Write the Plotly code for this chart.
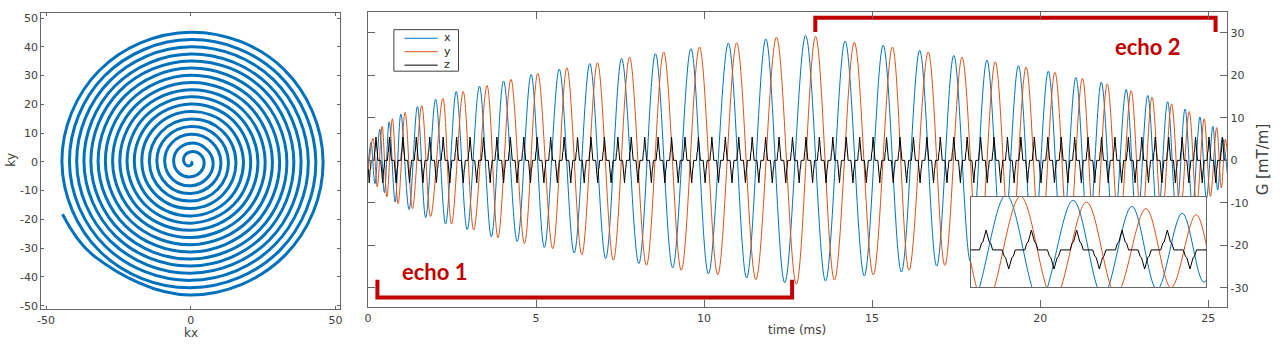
import numpy as np
import plotly.graph_objects as go

W, H = 1287, 349

# ---------------- data ----------------
# x-gradient extrema (time in ms, G in mT/m)
gx_t = [0.0, 0.089, 0.207, 0.349, 0.488, 0.630, 0.808, 0.977, 1.222, 1.471, 1.717, 2.012, 2.308,
        2.625, 2.951, 3.315, 3.670, 4.034, 4.439, 4.853, 5.247, 5.691, 6.135, 6.600, 7.073, 7.547,
        8.059, 8.553, 9.065, 9.609, 10.130, 10.722, 11.267, 11.838, 12.400, 13.022, 13.614, 14.197,
        14.768, 15.330, 15.872, 16.416, 16.922, 17.431, 17.926, 18.417, 18.887, 19.355, 19.799,
        20.243, 20.651, 21.063, 21.441, 21.820, 22.190, 22.560, 22.883, 23.202, 23.498, 23.794,
        24.055, 24.312, 24.534, 24.756, 24.949, 25.141, 25.283, 25.422, 25.570]
gx_v = [-1.5, 4.2, -5.5, 7.3, -7.6, 9.1, -9.8, 10.9, -11.6, 12.7, -13.5, 14.4, -15.0, 16.2, -16.3,
        17.5, -18.0, 18.7, -19.1, 20.2, -20.5, 21.5, -21.8, 22.8, -23.1, 24.0, -24.3, 25.1, -25.3,
        26.3, -26.7, 27.6, -27.7, 28.6, -28.8, 29.4, -28.4, 28.1, -27.2, 27.1, -26.3, 25.9, -24.9,
        24.7, -23.8, 23.6, -22.6, 22.3, -21.4, 21.0, -20.0, 19.5, -18.7, 18.4, -17.3, 16.7, -15.8,
        15.3, -14.3, 13.8, -12.8, 12.1, -11.0, 10.2, -9.0, 8.0, -7.0, 5.4, -3.0]

# y-gradient extrema
gy_t = [0.0, 0.148, 0.275, 0.420, 0.562, 0.725, 0.897, 1.104, 1.323, 1.598, 1.864, 2.228, 2.486,
        2.832, 3.146, 3.542, 3.868, 4.253, 4.655, 5.052, 5.496, 5.919, 6.363, 6.827, 7.301, 7.783,
        8.286, 8.799, 9.322, 9.864, 10.408, 10.971, 11.542, 12.154, 12.746, 13.318, 13.880, 14.472,
        15.034, 15.605, 16.099, 16.670, 17.165, 17.677, 18.171, 18.665, 19.124, 19.583, 20.012,
        20.441, 20.849, 21.258, 21.628, 21.998, 22.353, 22.708, 23.019, 23.329, 23.622, 23.912,
        24.173, 24.436, 24.658, 24.880, 25.067, 25.253, 25.392, 25.511, 25.570]
gy_v = [-3.0, 5.2, -6.2, 8.0, -8.6, 9.8, -10.2, 11.3, -11.4, 12.9, -13.2, 14.6, -15.0, 16.2, -16.4,
        17.6, -18.2, 19.1, -19.6, 20.5, -20.8, 21.8, -22.2, 23.0, -23.5, 24.3, -24.7, 25.5, -25.9,
        26.7, -26.9, 27.7, -28.1, 29.0, -29.2, 29.2, -28.2, 27.8, -27.0, 26.7, -25.9, 25.5, -24.7,
        24.3, -23.6, 23.2, -22.4, 22.0, -21.2, 20.7, -19.8, 19.3, -18.5, 18.0, -17.0, 16.4, -15.5,
        14.9, -14.0, 13.3, -12.3, 11.5, -10.5, 9.8, -8.5, 7.7, -6.5, 5.0, 2.0]

# z-gradient: one blip pair, repeated at the blip spacing
z_first_up = 0.237      # ms, first positive blip
z_period = 0.3998       # ms between positive blips
z_blip_dt = [-0.058, -0.040, -0.028, 0.0, 0.028, 0.040, 0.058]
z_up_v = [0.0, 1.9, 2.2, 5.5, 2.2, 1.9, 0.0]
z_down_v = [0.0, -1.8, -2.1, -5.3, -2.1, -1.8, 0.0]
t_end = 25.57

# spiral: ring radii (k units) where each turn crosses the 8 compass directions,
# listed turn by turn from the centre outwards (trajectory turns clockwise)
r_0deg = [0.0, 4.6, 7.7, 10.4, 13.0, 15.6, 18.2, 20.7, 23.2, 25.7, 28.2, 30.7, 33.2, 35.6, 38.1, 40.6, 43.2, 45.7]
r_m45 = [0.6, 4.9, 8.0, 10.7, 13.3, 15.9, 18.5, 21.0, 23.5, 26.0, 28.5, 31.0, 33.5, 35.9, 38.4, 40.9, 43.5, 46.0]
r_m90 = [1.2, 5.2, 8.3, 11.0, 13.6, 16.2, 18.8, 21.3, 23.8, 26.3, 28.8, 31.3, 33.8, 36.2, 38.7, 41.2, 43.8, 46.3]
r_m135 = [1.8, 5.6, 8.7, 11.4, 14.0, 16.6, 19.2, 21.7, 24.2, 26.7, 29.2, 31.7, 34.2, 36.6, 39.1, 41.6, 44.2, 46.7]
r_180 = [2.4, 5.9, 9.0, 11.7, 14.3, 16.9, 19.5, 22.0, 24.5, 27.0, 29.5, 32.0, 34.5, 36.9, 39.4, 41.9, 44.5]
r_135 = [3.0, 6.2, 9.3, 12.0, 14.6, 17.2, 19.8, 22.3, 24.8, 27.3, 29.8, 32.3, 34.8, 37.2, 39.7, 42.2, 44.8]
r_90 = [3.5, 6.5, 9.6, 12.3, 14.9, 17.5, 20.1, 22.6, 25.1, 27.6, 30.1, 32.6, 35.1, 37.5, 40.0, 42.5, 45.1]
r_45 = [4.1, 6.9, 10.0, 12.7, 15.3, 17.9, 20.5, 23.0, 25.5, 28.0, 30.5, 33.0, 35.5, 37.9, 40.4, 42.9, 45.5]
spiral_end = (-44.3, -18.2)

# echo brackets (time ms) and their levels (mT/m)
echo1_t = (0.28, 12.62)
echo1_levels = (-28.1, -32.3)
echo2_t = (13.31, 25.22)
echo2_levels = (30.2, 33.6)

# inset window
inset_t = (22.89, 24.97)
inset_g = (-10.3, 14.7)

# ---------------- build series ----------------
zt, zv = [], []
for k in range(-1, 66):
    c_up = z_first_up + k * z_period
    c_dn = c_up + z_period / 2
    for d, v in zip(z_blip_dt, z_up_v):
        zt.append(c_up + d); zv.append(v)
    for d, v in zip(z_blip_dt, z_down_v):
        zt.append(c_dn + d); zv.append(v)
zt = np.array(zt); zv = np.array(zv)
keep = (zt >= 0) & (zt <= t_end)
zt, zv = zt[keep], zv[keep]

dirs = [(0, r_0deg), (-45, r_m45), (-90, r_m90), (-135, r_m135),
        (180, r_180), (135, r_135), (90, r_90), (45, r_45)]
sx, sy = [], []
for k in range(len(r_0deg)):
    for ang, rr in dirs:
        if k < len(rr):
            a = np.deg2rad(ang)
            sx.append(rr[k] * np.cos(a)); sy.append(rr[k] * np.sin(a))
sx.append(spiral_end[0]); sy.append(spiral_end[1])

# ---------------- figure ----------------
BLUE, ORANGE, BLACK, RED = "#0072BD", "#D95319", "#000000", "#C00000"
AX = "#666666"
TXT = "#404040"
FONT = "DejaVu Sans"


def px(x):
    return x / W


def py(y):
    return 1 - y / H


def ticks(vals):
    return dict(tickvals=vals, ticktext=[str(v) for v in vals])


fig = go.Figure()

fig.add_trace(go.Scatter(x=sx, y=sy, mode="lines", xaxis="x", yaxis="y",
                         line=dict(color=BLUE, width=3, shape="spline", smoothing=1.1),
                         showlegend=False))

for t, v, c, nm in [(gx_t, gx_v, BLUE, "x"), (gy_t, gy_v, ORANGE, "y")]:
    fig.add_trace(go.Scatter(x=t, y=v, mode="lines", name=nm, xaxis="x2", yaxis="y2",
                             line=dict(color=c, width=1, shape="spline", smoothing=1.0),
                             showlegend=False))
fig.add_trace(go.Scatter(x=zt, y=zv, mode="lines", name="z", xaxis="x2", yaxis="y2",
                         line=dict(color=BLACK, width=1), showlegend=False))

for (t0, t1), (arm, base) in [(echo1_t, echo1_levels), (echo2_t, echo2_levels)]:
    fig.add_trace(go.Scatter(x=[t0, t0, t1, t1], y=[arm, base, base, arm], mode="lines",
                             xaxis="x2", yaxis="y2", line=dict(color=RED, width=4),
                             showlegend=False))

for t, v, c in [(gx_t, gx_v, BLUE), (gy_t, gy_v, ORANGE)]:
    fig.add_trace(go.Scatter(x=t, y=v, mode="lines", xaxis="x3", yaxis="y3",
                             line=dict(color=c, width=1, shape="spline", smoothing=1.0),
                             showlegend=False))
fig.add_trace(go.Scatter(x=zt, y=zv, mode="lines", xaxis="x3", yaxis="y3",
                         line=dict(color=BLACK, width=1), showlegend=False))

axcommon = dict(showline=True, linecolor=AX, linewidth=1, ticks="inside", tickcolor=AX,
                showgrid=False, zeroline=False, tickfont=dict(family=FONT, size=11, color=TXT))

fig.update_layout(
    width=W, height=H, margin=dict(l=0, r=0, t=0, b=0),
    paper_bgcolor="white", plot_bgcolor="white", showlegend=False,
    xaxis=dict(axcommon, domain=[px(37.3), px(337.7)], range=[-51.7, 51.5], anchor="y",
               ticklen=3, mirror="ticks", **ticks([-50, 0, 50])),
    yaxis=dict(axcommon, domain=[py(312), py(12)], range=[-51.3, 51.8], anchor="x",
               ticklen=3, mirror="ticks", **ticks(list(range(-50, 51, 10)))),
    xaxis2=dict(axcommon, domain=[px(366), px(1230)], range=[0, 25.57], anchor="y2",
                ticklen=7, mirror="ticks", **ticks([0, 5, 10, 15, 20, 25])),
    yaxis2=dict(axcommon, domain=[py(310), py(11)], range=[-34.64, 34.97], anchor="x2",
                side="right", ticklen=7, mirror="ticks", **ticks(list(range(-30, 31, 10)))),
    xaxis3=dict(domain=[px(972), px(1209)], range=list(inset_t), anchor="y3",
                showline=True, mirror=True, linecolor=AX, linewidth=1, showticklabels=False,
                ticks="", showgrid=False, zeroline=False),
    yaxis3=dict(domain=[py(289.3), py(198.3)], range=list(inset_g), anchor="x3",
                showline=True, mirror=True, linecolor=AX, linewidth=1, showticklabels=False,
                ticks="", showgrid=False, zeroline=False),
)

ann = []
def label(text, x, y, size, angle=0, color=TXT, bold=False, family=FONT, xanchor="center"):
    ann.append(dict(text=("<b>%s</b>" % text) if bold else text, x=px(x), y=py(y),
                    xref="paper", yref="paper", showarrow=False, textangle=angle,
                    xanchor=xanchor, yanchor="middle",
                    font=dict(family=family, size=size, color=color)))

label("kx", 188, 336, 12)
label("ky", 7.5, 160, 12, angle=-90)
label("time (ms)", 797, 333, 12)
label("G [mT/m]", 1266, 160, 15, angle=-90)
label("echo 1", 433, 274, 22, color=RED, bold=True, family="Lato")
label("echo 2", 1150, 46, 22, color=RED, bold=True, family="Lato")

# legend (drawn to match the compact MATLAB legend)
shapes = [dict(type="rect", xref="paper", yref="paper", x0=px(392), x1=px(457), y0=py(71),
               y1=py(29), line=dict(color="#404040", width=1), fillcolor="white", layer="above")]
for i, (nm, c) in enumerate([("x", BLUE), ("y", ORANGE), ("z", BLACK)]):
    yy = 37.7 + i * 13.6
    shapes.append(dict(type="line", xref="paper", yref="paper", x0=px(402.7), x1=px(436),
                       y0=py(yy), y1=py(yy), line=dict(color=c, width=1), layer="above"))
    label(nm, 440, yy - 0.5, 11, xanchor="left", color="#262626")

fig.update_layout(annotations=ann, shapes=shapes)
fig.write_html("out.html", config={"displayModeBar": False},
               post_script="document.body.style.margin='0';")
